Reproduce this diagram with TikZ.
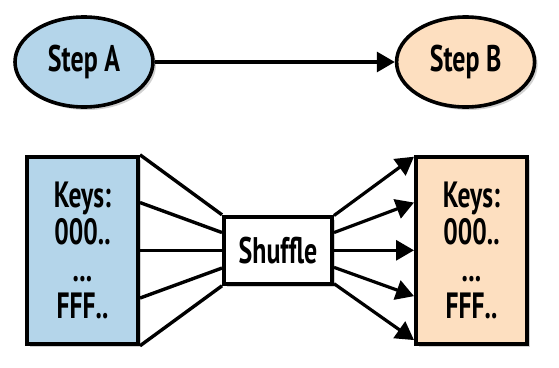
\documentclass[tikz,border=0pt]{standalone}
\usepackage{fontspec}
\setmainfont{PT Sans}[FakeStretch=0.7]
\usepackage{tikz}
\usetikzlibrary{arrows.meta,positioning,shapes.geometric,shadows,calc}
\definecolor{stepblue}{HTML}{B4D5EA}
\definecolor{steporange}{HTML}{FDDFC0}

\begin{document}
\begin{tikzpicture}[x=1pt, y=-1pt, node distance=40pt, shade/.style={drop shadow={fill=black, opacity=0.18, shadow xshift=3pt, shadow yshift=-3pt}}, stepnode/.style={ellipse, draw, line width=3.6pt, minimum width=138pt, minimum height=90pt, inner sep=0pt, font=\fontsize{37}{37}\bfseries, shade}, keybox/.style={rectangle, draw, line width=4pt, minimum width=111pt, minimum height=187pt, inner sep=0pt, align=center, font=\fontsize{36.5}{37}\bfseries, shade}, mixbox/.style={rectangle, draw, fill=white, line width=4pt, minimum width=108pt, minimum height=67pt, inner sep=0pt, font=\fontsize{37}{37}\bfseries, shade}, link/.style={line width=3.4pt}, arr/.style={-{Triangle[length=18pt, width=20pt]}, line width=3.2pt}]
\useasboundingbox (0,0) rectangle (559,367);
\node[stepnode, fill=stepblue] (stepA) at (84,62) {Step A};
\node[stepnode, fill=steporange, right=240pt of stepA] (stepB) {Step B};
\node[keybox, fill=stepblue, below=46pt of stepA.south, anchor=north, xshift=-1.5pt] (keysL) {Keys:\\000..\\...\\FFF..};
\node[mixbox, right=82pt of keysL] (shuffle) {Shuffle};
\node[keybox, fill=steporange, right=80pt of shuffle] (keysR) {Keys:\\000..\\...\\FFF..};
\draw[arr] (stepA) -- (stepB);
\foreach \f in {0,0.25,0.5,0.75,1}
  \draw[link] ($(keysL.north east)!\f!(keysL.south east)$) -- ($(shuffle.north west)!\f!(shuffle.south west)$);
\foreach \f in {0.01,0.25,0.5,0.74,0.97}
  \draw[arr] ($(shuffle.north east)!\f!(shuffle.south east)$) -- ($(keysR.north west)!\f!(keysR.south west)$);
\end{tikzpicture}
\end{document}
